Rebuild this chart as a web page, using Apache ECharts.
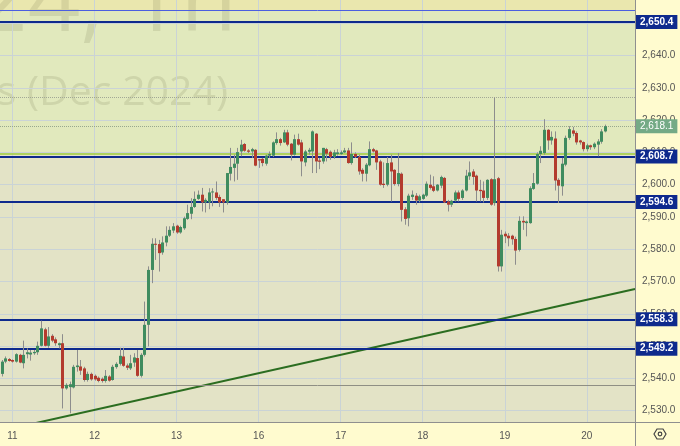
<!DOCTYPE html>
<html>
<head>
<meta charset="utf-8">
<title>Gold Futures (Dec 2024), 1h</title>
<script src="https://cdn.jsdelivr.net/npm/echarts@6/dist/echarts.min.js"></script>
<style>
  html, body { margin: 0; padding: 0; background: #fffbcf; }
  #chart { width: 680px; height: 446px; }
</style>
</head>
<body>
<div id="chart"></div>
<script>
// hourly candles: [open, close, low, high]
const candles = [
  [2541.4, 2545.2, 2540.6, 2545.7], [2545.2, 2546.2, 2544.7, 2546.8], [2546.0, 2545.4, 2545.2, 2546.3],
  [2545.7, 2545.2, 2544.9, 2545.9], [2545.2, 2547.5, 2544.9, 2547.8], [2547.3, 2544.9, 2544.7, 2547.6],
  [2544.7, 2547.3, 2543.1, 2551.7], [2547.5, 2548.1, 2546.2, 2549.3], [2547.4, 2548.0, 2545.5, 2548.8],
  [2547.8, 2548.2, 2547.3, 2548.8], [2548.1, 2550.1, 2547.3, 2551.4], [2550.1, 2555.5, 2549.9, 2557.9],
  [2555.2, 2550.1, 2549.9, 2555.7], [2550.1, 2553.0, 2549.5, 2555.9], [2553.2, 2551.7, 2551.2, 2553.7],
  [2552.1, 2550.9, 2550.1, 2552.7], [2550.3, 2550.9, 2549.3, 2551.1], [2550.9, 2536.9, 2530.7, 2553.7],
  [2536.9, 2538.0, 2536.5, 2538.5], [2537.3, 2538.2, 2529.2, 2539.0], [2537.2, 2543.6, 2536.9, 2544.2],
  [2543.5, 2544.0, 2542.1, 2548.8], [2543.7, 2542.4, 2541.1, 2545.7], [2543.1, 2539.5, 2539.0, 2543.6],
  [2539.5, 2541.4, 2539.0, 2542.1], [2541.4, 2539.7, 2539.3, 2541.8], [2540.8, 2539.7, 2539.3, 2541.2],
  [2540.2, 2539.2, 2538.8, 2540.6], [2539.9, 2539.2, 2538.7, 2540.3], [2539.2, 2540.8, 2538.7, 2542.6],
  [2540.6, 2539.3, 2539.0, 2541.0], [2539.5, 2543.6, 2539.3, 2544.2], [2543.5, 2544.5, 2543.0, 2545.0],
  [2544.5, 2547.0, 2544.0, 2549.5], [2546.8, 2543.9, 2543.6, 2549.5], [2544.0, 2543.3, 2542.6, 2544.6],
  [2543.1, 2544.7, 2542.6, 2547.3], [2544.9, 2546.5, 2543.6, 2547.8], [2546.3, 2540.8, 2540.5, 2548.8],
  [2540.8, 2547.3, 2540.3, 2547.8], [2547.3, 2556.6, 2546.8, 2563.8], [2556.6, 2573.6, 2549.9, 2574.7],
  [2573.6, 2581.7, 2569.5, 2583.4], [2581.7, 2581.4, 2576.7, 2583.4], [2581.6, 2578.8, 2573.1, 2582.9],
  [2579.0, 2582.1, 2578.3, 2584.0], [2582.1, 2584.2, 2580.9, 2587.1], [2584.2, 2586.0, 2583.8, 2587.1],
  [2585.8, 2587.1, 2585.0, 2588.1], [2587.3, 2585.2, 2584.8, 2587.6], [2585.2, 2586.9, 2584.8, 2587.3],
  [2586.5, 2589.6, 2586.0, 2590.1], [2589.4, 2591.2, 2589.1, 2593.8], [2591.0, 2593.1, 2589.3, 2595.8],
  [2593.1, 2595.6, 2592.8, 2597.9], [2595.6, 2596.9, 2595.3, 2598.2], [2596.9, 2594.5, 2591.7, 2599.0],
  [2594.5, 2595.3, 2591.4, 2595.8], [2594.5, 2597.6, 2592.4, 2598.9], [2597.6, 2597.9, 2593.3, 2598.9],
  [2597.6, 2595.9, 2595.3, 2601.0], [2596.2, 2594.5, 2593.1, 2596.9], [2595.5, 2594.5, 2591.4, 2595.5],
  [2594.5, 2603.6, 2593.8, 2603.6], [2603.4, 2605.5, 2601.3, 2611.4], [2605.2, 2606.5, 2601.0, 2609.3],
  [2606.5, 2610.1, 2601.5, 2611.4], [2610.3, 2612.4, 2608.8, 2613.9], [2612.6, 2610.5, 2610.2, 2612.9],
  [2610.6, 2610.2, 2609.8, 2611.0], [2610.3, 2611.0, 2608.3, 2611.4], [2610.8, 2605.9, 2605.7, 2611.0],
  [2607.9, 2607.5, 2605.2, 2608.0], [2608.0, 2606.7, 2605.7, 2608.3], [2606.5, 2609.0, 2605.9, 2609.3],
  [2609.0, 2609.5, 2608.3, 2610.3], [2609.0, 2613.1, 2608.6, 2613.4], [2612.9, 2614.1, 2612.4, 2616.2],
  [2614.1, 2612.9, 2612.1, 2614.5], [2613.1, 2616.2, 2612.9, 2617.0], [2616.2, 2612.4, 2611.9, 2617.0],
  [2612.7, 2609.3, 2607.5, 2612.9], [2609.3, 2614.1, 2609.0, 2615.5], [2614.1, 2612.4, 2612.1, 2615.8],
  [2613.1, 2607.2, 2602.6, 2613.9], [2606.9, 2610.3, 2605.7, 2610.8], [2610.2, 2610.8, 2609.3, 2611.4],
  [2610.3, 2616.5, 2603.6, 2616.8], [2615.8, 2607.2, 2603.6, 2616.0], [2607.5, 2607.1, 2604.8, 2608.3],
  [2607.2, 2611.4, 2606.5, 2611.4], [2611.0, 2609.6, 2607.2, 2611.4], [2610.2, 2608.6, 2607.7, 2610.6],
  [2608.6, 2610.0, 2608.0, 2610.8], [2609.5, 2610.0, 2609.0, 2611.0], [2609.5, 2610.0, 2609.2, 2610.6],
  [2610.0, 2610.6, 2609.8, 2611.4], [2610.6, 2606.7, 2606.5, 2611.4], [2606.7, 2609.5, 2606.2, 2613.1],
  [2609.5, 2608.6, 2608.3, 2610.0], [2608.6, 2604.1, 2603.1, 2609.3], [2604.6, 2603.4, 2601.0, 2605.1],
  [2603.4, 2606.2, 2601.0, 2606.7], [2606.0, 2611.0, 2605.7, 2613.4], [2611.0, 2610.3, 2610.0, 2611.4],
  [2610.6, 2606.9, 2604.6, 2610.8], [2607.2, 2600.0, 2599.7, 2607.7], [2600.3, 2599.9, 2599.0, 2606.9],
  [2600.0, 2606.7, 2599.5, 2608.6], [2606.9, 2604.1, 2594.8, 2609.3], [2604.6, 2600.2, 2599.7, 2604.8],
  [2600.2, 2603.6, 2599.5, 2609.8], [2603.4, 2592.2, 2588.6, 2603.8], [2592.4, 2589.4, 2587.6, 2593.0],
  [2589.6, 2596.6, 2587.1, 2597.2], [2596.2, 2596.9, 2595.3, 2598.2], [2596.6, 2595.1, 2593.8, 2597.4],
  [2595.1, 2596.4, 2594.5, 2596.9], [2595.6, 2596.9, 2595.3, 2597.2], [2596.6, 2600.3, 2596.2, 2601.0],
  [2600.0, 2599.0, 2598.5, 2603.1], [2599.5, 2598.1, 2597.7, 2602.6], [2598.2, 2600.0, 2597.9, 2600.2],
  [2599.7, 2602.4, 2598.9, 2602.8], [2602.1, 2594.5, 2594.3, 2602.4], [2594.8, 2593.8, 2591.7, 2595.3],
  [2593.8, 2595.0, 2593.1, 2595.3], [2595.1, 2597.6, 2594.8, 2598.2], [2597.6, 2595.6, 2594.8, 2598.2],
  [2595.9, 2598.2, 2595.3, 2598.6], [2598.2, 2602.8, 2597.9, 2604.6], [2602.6, 2603.8, 2601.5, 2607.2],
  [2604.1, 2602.4, 2600.0, 2604.8], [2602.8, 2598.2, 2594.8, 2603.1], [2598.4, 2598.0, 2594.8, 2601.5],
  [2598.2, 2595.9, 2594.5, 2601.0], [2595.9, 2601.5, 2595.3, 2601.7], [2601.7, 2593.8, 2593.5, 2602.0],
  [2594.3, 2601.7, 2593.5, 2627.0], [2602.0, 2574.7, 2573.1, 2602.4], [2574.7, 2584.5, 2573.1, 2586.0],
  [2584.8, 2584.0, 2581.9, 2585.5], [2584.2, 2583.4, 2580.9, 2585.0], [2584.2, 2583.1, 2581.4, 2584.5],
  [2583.2, 2579.6, 2575.2, 2583.9], [2579.8, 2588.8, 2579.3, 2590.2], [2588.8, 2588.3, 2586.0, 2590.2],
  [2588.1, 2588.6, 2584.0, 2588.9], [2588.1, 2598.9, 2587.9, 2599.5], [2598.7, 2600.5, 2598.4, 2603.6],
  [2600.3, 2609.5, 2600.0, 2610.0], [2609.5, 2610.5, 2606.7, 2611.9], [2609.8, 2617.0, 2609.3, 2620.3],
  [2617.0, 2613.7, 2610.8, 2617.2], [2613.7, 2614.8, 2612.4, 2616.5], [2614.3, 2601.3, 2598.2, 2616.5],
  [2601.5, 2599.7, 2594.3, 2602.0], [2599.5, 2606.5, 2596.6, 2608.3], [2606.2, 2614.5, 2605.7, 2615.2],
  [2614.5, 2617.2, 2613.9, 2618.1], [2616.8, 2615.8, 2615.0, 2617.9], [2616.0, 2613.1, 2612.4, 2616.5],
  [2613.7, 2613.1, 2612.4, 2613.9], [2613.2, 2611.0, 2610.3, 2613.4], [2611.0, 2612.2, 2610.3, 2612.7],
  [2612.2, 2611.6, 2610.8, 2612.4], [2611.6, 2612.7, 2611.0, 2613.1], [2612.4, 2613.4, 2608.8, 2614.1],
  [2613.3, 2616.5, 2612.7, 2617.2], [2616.5, 2618.1, 2616.2, 2618.6]
]

const slotCount = 178 // hourly slots across the visible window
const dayLabels = ['11', '12', '13', '16', '17', '18', '19', '20']
const dayStarts = [3, 26, 49, 72, 95, 118, 141, 164]
const priceTicks = [2530, 2540, 2550, 2560, 2570, 2580, 2590, 2600, 2610, 2620, 2630, 2640, 2650]

const levels = [2650.4, 2608.7, 2594.6, 2558.3, 2549.2]
const lastPrice = 2618.1
const sessionHigh = 2627.1
const upperLine = 2654.1
const greenLine = 2609.6
const pivotLine = 2537.9
const trendLine = [[-0.5, 2523.7], [177.5, 2567.7]]
const zones = [[2654.1, 2657.2], [2609.6, 2654.1]]

const priceMin = 2526.5
const priceMax = 2657.2

const upColor = '#3f8c5f'
const downColor = '#b33b2e'
const wickColor = '#8d8d8d'
const gridColor = '#cad3d6'
const navy = '#0e2a8d'
const zoneColors = ['#eae7ae', '#e1e9bd']

const fmt = v => v.toLocaleString('en-US', { minimumFractionDigits: 1, maximumFractionDigits: 1 })

function renderCandle(params, api) {
  const i = api.value(0)
  const open = api.value(1)
  const close = api.value(2)
  const hi = api.coord([i, api.value(4)])
  const lo = api.coord([i, api.value(3)])
  const bTop = api.coord([i, Math.max(open, close)])
  const bBot = api.coord([i, Math.min(open, close)])
  const cx = Math.round(hi[0]) + 0.5
  const w = 3
  const color = close >= open ? upColor : downColor
  return {
    type: 'group',
    children: [{
      type: 'line',
      shape: { x1: cx, y1: hi[1], x2: cx, y2: lo[1] },
      style: { stroke: wickColor, lineWidth: 1 }
    }, {
      type: 'rect',
      shape: { x: cx - 1.5, y: bTop[1], width: w, height: Math.max(1, bBot[1] - bTop[1]) },
      style: { fill: color }
    }]
  }
}

const levelLabel = {
  show: true,
  position: 'end',
  distance: 1,
  formatter: p => fmt(p.value),
  color: '#fff',
  backgroundColor: navy,
  fontFamily: 'Liberation Sans',
  fontSize: 10,
  fontWeight: 'bold',
  padding: [2, 4, 2, 4]
}

const markLines = levels.map(v => ({
  yAxis: v,
  lineStyle: { color: navy, width: 2, type: 'solid' },
  label: levelLabel
}))
markLines.push(
  { yAxis: upperLine, lineStyle: { color: '#4b5fe0', width: 1, type: 'solid' }, label: { show: false } },
  { yAxis: greenLine, lineStyle: { color: '#9ccc3c', width: 1.5, type: 'solid' }, label: { show: false } },
  { yAxis: pivotLine, lineStyle: { color: '#8f8f84', width: 1, type: 'solid' }, label: { show: false } },
  { yAxis: sessionHigh, lineStyle: { color: '#a2a896', width: 1, type: 'dotted' }, label: { show: false } },
  {
    yAxis: lastPrice,
    lineStyle: { color: '#98a88e', width: 1, type: 'dotted' },
    label: Object.assign({}, levelLabel, { backgroundColor: '#74aa86', fontWeight: 'normal' })
  }
)

const chart = echarts.init(document.getElementById('chart'))

chart.setOption({
  animation: false,
  backgroundColor: '#fffbcf',
  grid: {
    left: 0, top: 0, width: 635, height: 422,
    show: true, backgroundColor: '#e3e3c6', borderWidth: 0
  },
  xAxis: {
    type: 'value',
    min: -0.5,
    max: slotCount - 0.5,
    z: 3,
    axisLine: { show: false },
    axisTick: { show: false, customValues: dayStarts },
    axisLabel: {
      customValues: dayStarts,
      formatter: v => dayLabels[dayStarts.indexOf(v)],
      color: '#555',
      fontSize: 10,
      fontFamily: 'Liberation Sans',
      margin: 9
    },
    splitLine: { show: true, lineStyle: { color: gridColor, width: 1 } }
  },
  yAxis: {
    type: 'value',
    position: 'right',
    min: priceMin,
    max: priceMax,
    z: 3,
    axisLine: { show: false },
    axisTick: { show: false, customValues: priceTicks },
    axisLabel: {
      customValues: priceTicks,
      formatter: v => fmt(v),
      color: '#555',
      fontSize: 10,
      fontFamily: 'Liberation Sans',
      margin: 7
    },
    splitLine: { show: true, lineStyle: { color: gridColor, width: 1 } }
  },
  graphic: [
    {
      type: 'text', z: 2, silent: true,
      style: {
        x: 237, y: 51, text: 'GCZ2024, 1h', align: 'right', verticalAlign: 'bottom',
        font: '92px "Open Sans"', fill: 'rgba(90, 95, 60, 0.14)'
      }
    },
    {
      type: 'text', z: 2, silent: true,
      style: {
        x: 228, y: 114, text: 'Gold Futures (Dec 2024)', align: 'right', verticalAlign: 'bottom',
        font: '41px "Open Sans"', fill: 'rgba(90, 95, 60, 0.14)'
      }
    },
    { type: 'line', z: 10, shape: { x1: 635.5, y1: 0, x2: 635.5, y2: 446 }, style: { stroke: '#8f8f8f', lineWidth: 1 } },
    { type: 'line', z: 10, shape: { x1: 0, y1: 422.5, x2: 680, y2: 422.5 }, style: { stroke: '#8f8f8f', lineWidth: 1 } },
    {
      type: 'polygon', z: 10,
      shape: { points: [[654, 434], [657, 429], [663, 429], [666, 434], [663, 439], [657, 439]] },
      style: { fill: 'none', stroke: '#444', lineWidth: 1.2 }
    },
    { type: 'circle', z: 10, shape: { cx: 660, cy: 434, r: 1.8 }, style: { fill: 'none', stroke: '#444', lineWidth: 1.2 } }
  ],
  series: [
    {
      name: 'zones',
      type: 'line',
      z: 1,
      data: [],
      markArea: {
        silent: true,
        data: zones.map((z, k) => [
          { yAxis: z[0], itemStyle: { color: zoneColors[k] } },
          { yAxis: z[1] }
        ])
      }
    },
    {
      name: 'levels',
      type: 'line',
      z: 4,
      data: trendLine,
      showSymbol: false,
      symbol: 'none',
      clip: true,
      lineStyle: { color: '#2b6d20', width: 2 },
      markLine: {
        silent: true,
        symbol: ['none', 'none'],
        data: markLines
      }
    },
    {
      name: 'candles',
      type: 'custom',
      z: 5,
      clip: true,
      renderItem: renderCandle,
      encode: { x: 0, y: [1, 2, 3, 4] },
      data: candles.map((c, i) => [i].concat(c))
    }
  ]
})
</script>
</body>
</html>
